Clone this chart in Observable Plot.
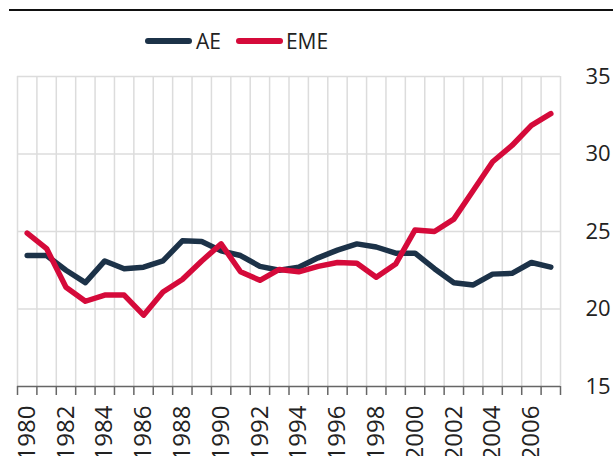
<!DOCTYPE html>
<html>
<head>
<meta charset="utf-8">
<script src="https://cdn.jsdelivr.net/npm/d3@7"></script>
<script src="https://cdn.jsdelivr.net/npm/@observablehq/plot@0.6"></script>
<style>
  body { margin: 0; background: #fff; }
  #wrap { position: relative; width: 613px; font-family: "Open Sans", sans-serif; color: #222; }
  #topline { position: absolute; left: 9px; right: 0; top: 9px; border-top: 2px solid #111; }
  #legend { height: 60px; box-sizing: border-box; padding-top: 22px; padding-left: 145px; display: flex; align-items: center; font-size: 21px; }
  .sw { width: 47px; height: 6px; border-radius: 3px; display: inline-block; }
  .item { display: flex; align-items: center; }
  svg { display: block; }
</style>
</head>
<body>
<div id="wrap">
  <div id="topline"></div>
  <div id="legend"></div>
  <div id="chart"></div>
</div>
<script>
const years = [1980,1981,1982,1983,1984,1985,1986,1987,1988,1989,1990,1991,1992,1993,1994,1995,1996,1997,1998,1999,2000,2001,2002,2003,2004,2005,2006,2007];
const ae  = [23.45,23.45,22.5,21.7,23.1,22.6,22.7,23.1,24.4,24.35,23.75,23.45,22.75,22.5,22.7,23.3,23.8,24.2,24.0,23.6,23.6,22.6,21.7,21.55,22.25,22.3,23.0,22.7];
const eme = [24.9,23.9,21.4,20.5,20.9,20.9,19.6,21.1,21.9,23.1,24.2,22.4,21.85,22.55,22.4,22.75,23.0,22.95,22.05,22.9,25.1,25.0,25.8,27.65,29.5,30.55,31.85,32.6];
const seriesNames = ["AE", "EME"];
const seriesColors = ["#1c3248", "#d50a3a"];
const yTicks = [15, 20, 25, 30, 35];
const yGrid = [20, 25, 30, 35];
const xLabelYears = [1980,1982,1984,1986,1988,1990,1992,1994,1996,1998,2000,2002,2004,2006];

const rows = [];
years.forEach((y, i) => {
  rows.push({year: y, value: ae[i], series: seriesNames[0]});
  rows.push({year: y, value: eme[i], series: seriesNames[1]});
});
const boundaries = years.map(y => y - 0.5).concat([years[years.length - 1] + 0.5]);

// legend
const legend = document.getElementById("legend");
seriesNames.forEach((n, i) => {
  const it = document.createElement("div");
  it.className = "item";
  it.style.marginRight = i === 0 ? "15px" : "0";
  it.innerHTML = `<span class="sw" style="background:${seriesColors[i]}"></span><span style="margin-left:${i===0?4:3}px">${n}</span>`;
  legend.appendChild(it);
});

const plot = Plot.plot({
  width: 613,
  height: 400,
  marginLeft: 17,
  marginRight: 53,
  marginTop: 16,
  marginBottom: 74,
  style: {fontFamily: "Open Sans", color: "#222", background: "#fff"},
  x: {domain: [boundaries[0], boundaries[boundaries.length - 1]], axis: null},
  y: {domain: [15, 35], axis: null},
  color: {domain: seriesNames, range: seriesColors},
  marks: [
    Plot.ruleX(boundaries, {stroke: "#dcdcdc", strokeWidth: 1.5}),
    Plot.ruleY(yGrid, {stroke: "#dcdcdc", strokeWidth: 1.5}),
    Plot.line(rows, {x: "year", y: "value", z: "series", stroke: "series", strokeWidth: 5.5, strokeLinecap: "round", strokeLinejoin: "round"}),
    Plot.ruleY([15], {stroke: "#666", strokeWidth: 1.5}),
    Plot.axisX(boundaries, {anchor: "bottom", tickSize: 9, tickFormat: () => "", stroke: "#666", strokeWidth: 1.5, label: null}),
    Plot.axisY(yTicks, {anchor: "right", tickSize: 0, tickPadding: 25, fontSize: 22, textAnchor: "start", fill: "#222", label: null}),
    Plot.text(xLabelYears, {x: d => d, frameAnchor: "bottom", text: d => String(d), rotate: -90, textAnchor: "end", lineAnchor: "middle", dy: 19, fontSize: 24, fill: "#222"})
  ]
});
document.getElementById("chart").appendChild(plot);
</script>
</body>
</html>
